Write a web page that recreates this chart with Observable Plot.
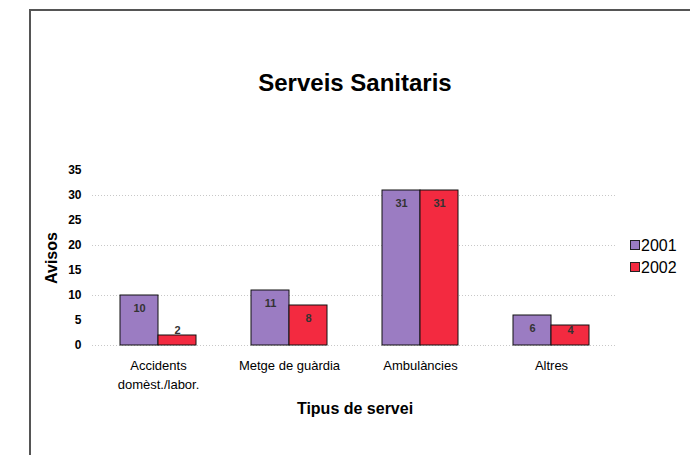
<!DOCTYPE html>
<html>
<head>
<meta charset="utf-8">
<script src="https://cdn.jsdelivr.net/npm/d3@7"></script>
<script src="https://cdn.jsdelivr.net/npm/@observablehq/plot@0.6"></script>
<style>
  html, body { margin: 0; padding: 0; background: #fff; }
  #wrap { position: relative; width: 690px; height: 455px; overflow: hidden; font-family: "Liberation Sans", Arial, sans-serif; }
  #border { position: absolute; left: 29px; top: 9px; right: -5px; bottom: -5px; border-left: 2px solid #555; border-top: 2px solid #555; }
  #title { position: absolute; left: 92px; width: 526px; top: 68px; text-align: center; font-size: 24px; font-weight: bold; line-height: 30px; color: #000; }
  #ylabel { position: absolute; left: 52px; top: 258px; transform: translate(-50%, -50%) rotate(-90deg); font-size: 16px; font-weight: bold; line-height: 18px; white-space: nowrap; color: #000; }
  #chart { position: absolute; left: 0; top: 0; }
  .leg { position: absolute; left: 630px; font-size: 16px; line-height: 18px; color: #000; }
  .leg span { display: inline-block; width: 8px; height: 8px; border: 1px solid #222; margin-right: 1px; vertical-align: 1px; }
</style>
</head>
<body>
<div id="wrap">
  <div id="border"></div>
  <div id="title">Serveis Sanitaris</div>
  <div id="chart"></div>
  <div id="ylabel">Avisos</div>
  <div id="legend"></div>
</div>
<script>
const categories = ["Accidents domèst./labor.", "Metge de guàrdia", "Ambulàncies", "Altres"];
const tickLabels = ["Accidents\ndomèst./labor.", "Metge de guàrdia", "Ambulàncies", "Altres"];
const years = ["2001", "2002"];
const values2001 = [10, 11, 31, 6];
const values2002 = [2, 8, 31, 4];
const yTicks = [0, 5, 10, 15, 20, 25, 30, 35];
const gridTicks = [0, 10, 20, 30];
const colors = ["#9b7cc2", "#f32a40"];

const data = categories.flatMap((c, i) => [
  {cat: c, year: years[0], v: values2001[i]},
  {cat: c, year: years[1], v: values2002[i]}
]);

const chart = Plot.plot({
  width: 690,
  height: 455,
  marginTop: 170,
  marginBottom: 110,
  marginLeft: 92,
  marginRight: 74,
  style: {fontFamily: "'Liberation Sans', Arial, sans-serif", background: "transparent", color: "#000"},
  fx: {domain: categories, paddingInner: 0.42, paddingOuter: 0.21},
  x: {domain: years, padding: 0, axis: null},
  y: {domain: [0, 35]},
  color: {domain: years, range: colors},
  marks: [
    Plot.ruleY(gridTicks, {stroke: "#c8c8c8", strokeDasharray: "1,2", insetLeft: -28, insetRight: -28}),
    Plot.barY(data, {fx: "cat", x: "year", y: "v", fill: "year", stroke: "#111", strokeWidth: 1}),
    Plot.text(data, {fx: "cat", x: "year", y: d => Math.max(d.v, 5.6), dy: 13, text: d => String(d.v), fill: "#333", fontWeight: "bold", fontSize: 11}),
    Plot.axisY({ticks: yTicks, tickSize: 0, tickPadding: 39, fontSize: 12, fontWeight: "bold", label: null}),
    Plot.axisFx({anchor: "bottom", tickSize: 0, tickPadding: 12, fontSize: 13, lineHeight: 1.4, tickFormat: d => tickLabels[categories.indexOf(d)], label: null}),
    Plot.text(["Tipus de servei"], {facet: "super", frameAnchor: "bottom", dy: 63, text: d => d, fontSize: 16, fontWeight: "bold", lineAnchor: "middle"})
  ]
});
document.getElementById("chart").appendChild(chart);

const legend = document.getElementById("legend");
years.forEach((y, i) => {
  const el = document.createElement("div");
  el.className = "leg";
  el.style.top = (237 + i * 22) + "px";
  el.innerHTML = `<span style="background:${colors[i]}"></span>${y}`;
  legend.appendChild(el);
});
</script>
</body>
</html>
